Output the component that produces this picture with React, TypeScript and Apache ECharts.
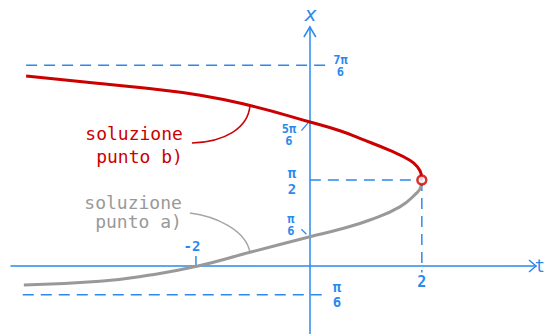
import React, { useEffect, useRef } from "react";
import * as echarts from "echarts";

const PI = Math.PI;

// Curve "soluzione punto b)" (red): t -> x
const redT = [-5.07, -4.11, -3.04, -1.96, -1.07, 0, 0.536, 0.893, 1.429, 1.786, 1.929, 1.985, 2];
const redX = [3.47, 3.37, 3.26, 3.12, 2.93, 2.63, 2.47, 2.33, 2.11, 1.93, 1.8, 1.69, PI / 2];

// Curve "soluzione punto a)" (gray)
const grayT = [-5.11, -3.75, -2.857, -2.0, -1.071, 0, 0.536, 1.071, 1.607, 1.905, 1.985, 2];
const grayX = [-0.347, -0.28, -0.165, 0.0, 0.25, 0.535, 0.67, 0.84, 1.08, 1.33, 1.45, PI / 2];

// Reference levels
const upperLevel = (7 * PI) / 6;
const lowerLevel = -PI / 6;
const midLevel = PI / 2;
const tStart = 2;

// Axis ranges
const T_MIN = -5.34;
const T_MAX = 4.04;
const X_MIN = -1.242;
const X_MAX = 4.365;

// Tick labels on vertical axis
const yTickValues = [(7 * PI) / 6, (5 * PI) / 6, PI / 2, PI / 6, -PI / 6];
const yTickLabels = ["7π\n6", "5π\n6", "π\n2", "π\n6", "π\n6"];
// Tick labels on horizontal axis
const tTickValues = [-2, 2];
const tTickLabels = ["-2", "2"];

const BLUE = "#2a8aec";
const RED = "#cc0000";
const GRAY = "#999999";
const MONO = "'DejaVu Sans Mono', monospace";

export default function App() {
  const ref = useRef<HTMLDivElement>(null);

  useEffect(() => {
    if (!ref.current) return;
    const chart = echarts.init(ref.current, undefined, { renderer: "svg" });

    const dashStyle = { color: BLUE, width: 1.5, type: [11, 7] as any };
    const dashSeries = (data: number[][]) => ({
      type: "line",
      data,
      symbol: "none",
      silent: true,
      z: 1,
      lineStyle: dashStyle,
    });

    chart.setOption({
      animation: false,
      grid: { left: 11, right: 9, top: 27, bottom: 0, containLabel: false },
      xAxis: {
        type: "value",
        min: T_MIN,
        max: T_MAX,
        axisLine: { show: true, onZero: true, lineStyle: { color: BLUE, width: 1.5 } },
        axisTick: { show: false },
        axisLabel: { show: false },
        splitLine: { show: false },
      },
      yAxis: {
        type: "value",
        min: X_MIN,
        max: X_MAX,
        axisLine: { show: true, onZero: true, lineStyle: { color: BLUE, width: 1.5 } },
        axisTick: { show: false },
        axisLabel: { show: false },
        splitLine: { show: false },
      },
      series: [
        dashSeries([
          [-5.07, upperLevel],
          [0.3, upperLevel],
        ]),
        dashSeries([
          [-5.13, lowerLevel],
          [0.3, lowerLevel],
        ]),
        dashSeries([
          [0, midLevel],
          [tStart, midLevel],
        ]),
        dashSeries([
          [tStart, midLevel],
          [tStart, -0.12],
        ]),
        {
          type: "line",
          data: grayT.map((t, i) => [t, grayX[i]]),
          symbol: "none",
          smooth: 0.5,
          z: 3,
          lineStyle: { color: GRAY, width: 3 },
        },
        {
          type: "line",
          data: redT.map((t, i) => [t, redX[i]]),
          symbol: "none",
          smooth: 0.5,
          z: 4,
          lineStyle: { color: RED, width: 3 },
        },
        {
          type: "scatter",
          data: [[tStart, midLevel]],
          symbol: "circle",
          symbolSize: 9,
          z: 5,
          itemStyle: { color: "#ffffff", borderColor: RED, borderWidth: 2.5 },
        },
      ],
    });

    const px = (t: number, x: number) => chart.convertToPixel({ gridIndex: 0 }, [t, x]) as number[];
    const O = px(0, 0);
    const top = px(0, X_MAX);
    const right = px(T_MAX, 0);

    const graphics: any[] = [];

    // arrows
    graphics.push({
      type: "polyline",
      shape: { points: [[top[0] - 6, top[1] + 10], [top[0], top[1]], [top[0] + 6, top[1] + 10]] },
      style: { stroke: BLUE, lineWidth: 1.5, fill: null },
    });
    graphics.push({
      type: "polyline",
      shape: { points: [[right[0] - 7, right[1] - 6], [right[0], right[1]], [right[0] - 7, right[1] + 6]] },
      style: { stroke: BLUE, lineWidth: 1.5, fill: null },
    });
    // axis names
    graphics.push({
      type: "text",
      x: top[0] + 1,
      y: top[1] - 13,
      style: { text: "x", fill: BLUE, font: `italic 20px ${MONO}`, align: "center", verticalAlign: "middle" },
    });
    graphics.push({
      type: "text",
      x: 545,
      y: right[1],
      style: { text: "t", fill: BLUE, font: `17px ${MONO}`, align: "right", verticalAlign: "middle" },
    });

    // vertical-axis fraction labels (layout offsets: centre relative to tick value)
    const fracLayout = [
      { dx: 30.5, dy: 0.7, size: 12, lh: 12.5 },
      { dx: -21, dy: 12.4, size: 12, lh: 12.5 },
      { dx: -18, dy: 1, size: 14, lh: 15.5 },
      { dx: -19, dy: -12.5, size: 12, lh: 12.5 },
      { dx: 27, dy: -0.2, size: 14, lh: 14.5 },
    ];
    yTickValues.forEach((v, i) => {
      const p = px(0, v);
      const L = fracLayout[i];
      graphics.push({
        type: "text",
        x: p[0] + L.dx,
        y: p[1] + L.dy,
        style: {
          text: yTickLabels[i],
          fill: BLUE,
          font: `bold ${L.size}px ${MONO}`,
          lineHeight: L.lh,
          align: "center",
          verticalAlign: "middle",
        },
      });
    });
    // small leader strokes for 5π/6 and π/6
    const p56 = px(0, (5 * PI) / 6);
    graphics.push({
      type: "line",
      shape: { x1: p56[0] - 8.5, y1: p56[1] + 8, x2: p56[0] - 2, y2: p56[1] + 0.5 },
      style: { stroke: BLUE, lineWidth: 1.3 },
    });
    const p16 = px(0, PI / 6);
    graphics.push({
      type: "line",
      shape: { x1: p16[0] - 8.5, y1: p16[1] - 8, x2: p16[0] - 3.5, y2: p16[1] - 3 },
      style: { stroke: BLUE, lineWidth: 1.3 },
    });

    // t tick labels
    tTickValues.forEach((v, i) => {
      const p = px(v, 0);
      if (v < 0) {
        graphics.push({
          type: "line",
          shape: { x1: p[0] - 2, y1: p[1] - 10, x2: p[0] - 2, y2: p[1] },
          style: { stroke: BLUE, lineWidth: 1.5 },
        });
        graphics.push({
          type: "text",
          x: p[0] - 6,
          y: p[1] - 20,
          style: { text: tTickLabels[i], fill: BLUE, font: `bold 14px ${MONO}`, align: "center", verticalAlign: "middle" },
        });
      } else {
        graphics.push({
          type: "text",
          x: p[0],
          y: p[1] + 16,
          style: { text: tTickLabels[i], fill: BLUE, font: `bold 15px ${MONO}`, align: "center", verticalAlign: "middle" },
        });
      }
    });

    // annotations
    const annFont = `18px ${MONO}`;
    graphics.push({
      type: "text",
      x: O[0] - 127,
      y: O[1] - 120.5,
      style: {
        text: "soluzione\npunto b)",
        fill: RED,
        font: annFont,
        lineHeight: 23,
        align: "right",
        verticalAlign: "middle",
      },
    });
    graphics.push({
      type: "text",
      x: O[0] - 128,
      y: O[1] - 53.5,
      style: {
        text: "soluzione\npunto a)",
        fill: GRAY,
        font: annFont,
        lineHeight: 19,
        align: "right",
        verticalAlign: "middle",
      },
    });
    const redEnd = px(redT[4], redX[4]);
    graphics.push({
      type: "bezierCurve",
      shape: {
        x1: O[0] - 118,
        y1: O[1] - 123,
        cpx1: O[0] - 85,
        cpy1: O[1] - 124,
        cpx2: redEnd[0] - 2,
        cpy2: O[1] - 138,
        x2: redEnd[0],
        y2: redEnd[1],
      },
      style: { stroke: RED, lineWidth: 1.5, fill: null },
    });
    const grayEnd = px(grayT[4], grayX[4]);
    graphics.push({
      type: "bezierCurve",
      shape: {
        x1: O[0] - 120,
        y1: O[1] - 53,
        cpx1: O[0] - 95,
        cpy1: O[1] - 50,
        cpx2: grayEnd[0] - 4,
        cpy2: O[1] - 36,
        x2: grayEnd[0],
        y2: grayEnd[1],
      },
      style: { stroke: "#a6a6a6", lineWidth: 1.5, fill: null },
    });

    chart.setOption({ graphic: graphics });

    return () => chart.dispose();
  }, []);

  return (
    <div
      ref={ref}
      style={{ position: "fixed", left: 0, top: 0, width: 545, height: 334, background: "#ffffff" }}
    />
  );
}
